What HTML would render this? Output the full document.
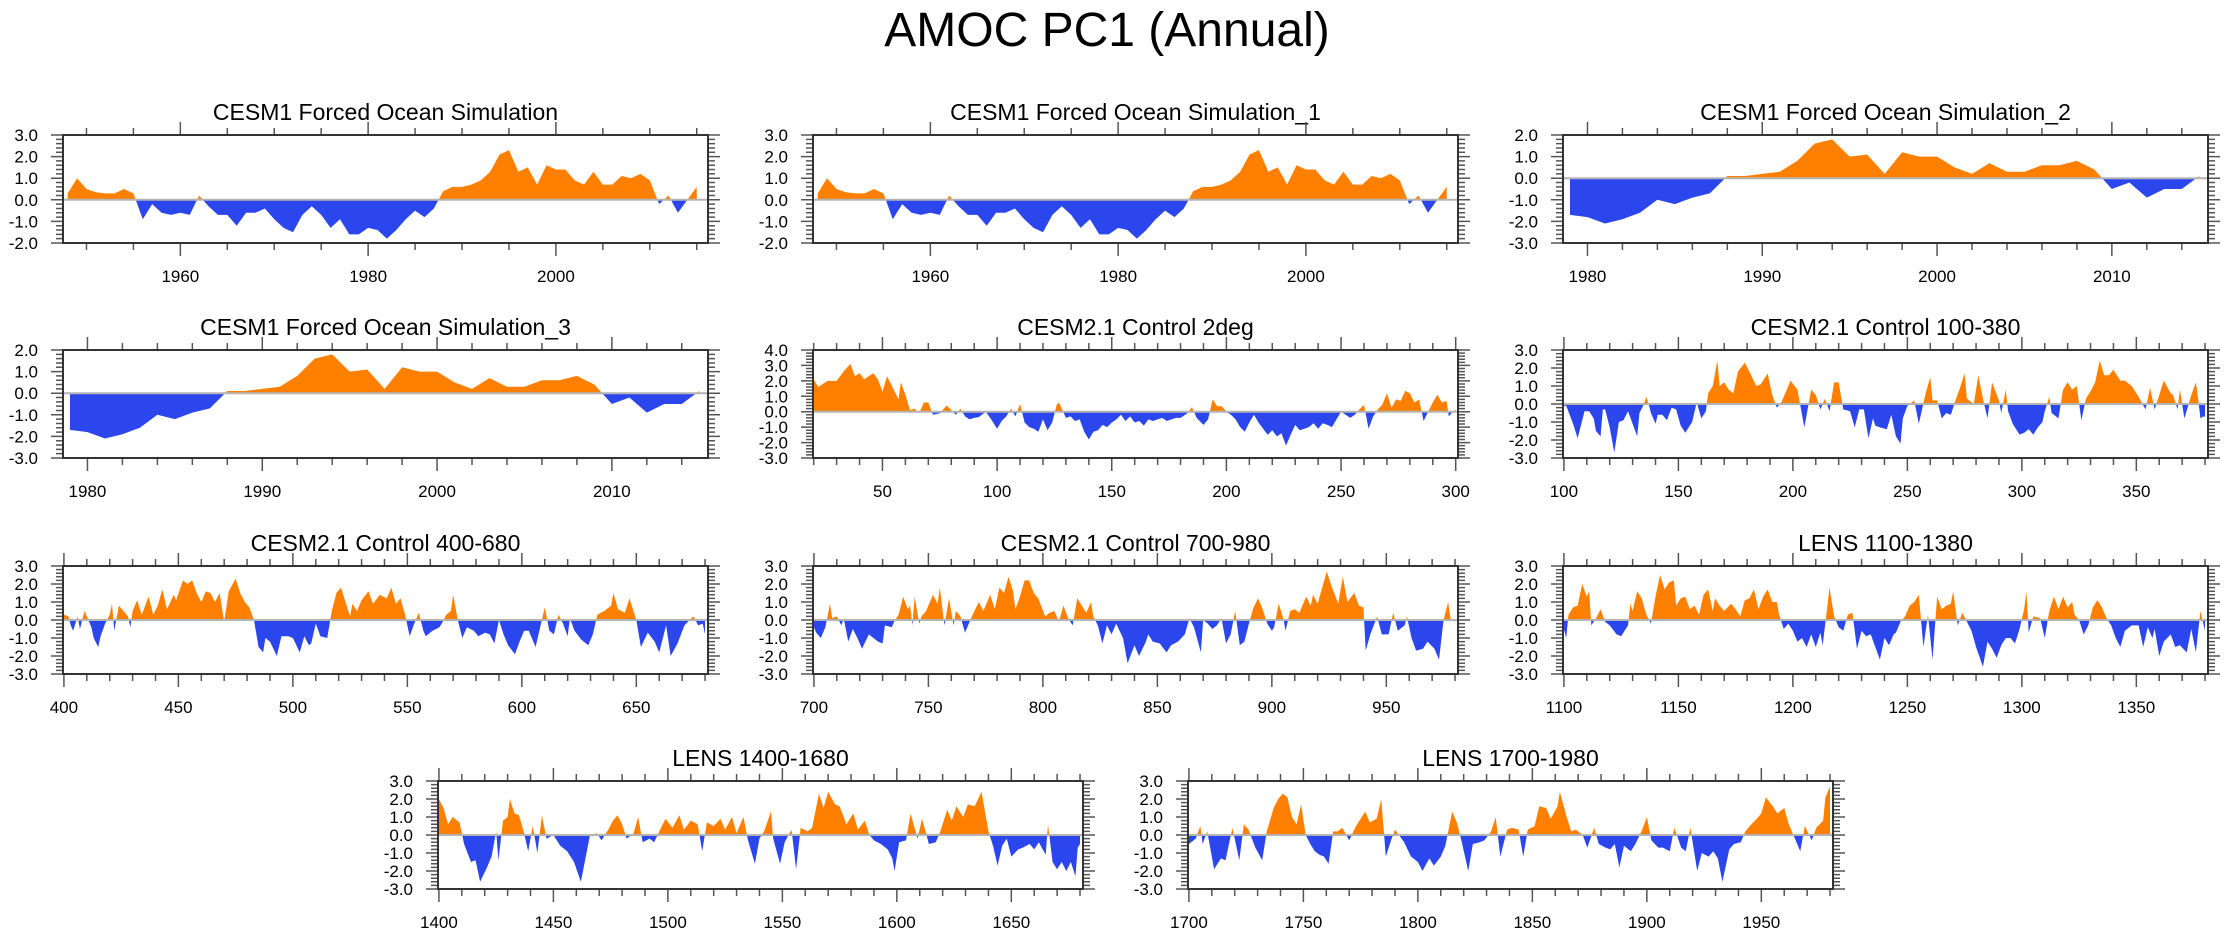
<!DOCTYPE html>
<html><head><meta charset="utf-8"><title>AMOC PC1 (Annual)</title>
<style>
html,body{margin:0;padding:0;background:#fff;}
svg{display:block;font-family:"Liberation Sans",Arial,sans-serif;}
</style></head>
<body>
<svg id="chart" width="2230" height="935" viewBox="0 0 2230 935" xmlns="http://www.w3.org/2000/svg">
<rect width="2230" height="935" fill="#fff"/>
<text x="1107" y="46" font-size="48" text-anchor="middle" fill="#000">AMOC PC1 (Annual)</text>
</svg>
<script>
// ---------- data ----------
const forcedValues = [0.3,1.0,0.5,0.35,0.3,0.3,0.5,0.3,-0.9,-0.2,-0.6,-0.7,-0.6,-0.7,0.2,-0.3,-0.7,-0.7,-1.2,-0.6,-0.6,-0.4,-0.9,-1.3,-1.5,-0.7,-0.3,-0.7,-1.3,-0.9,-1.6,-1.6,-1.3,-1.4,-1.8,-1.4,-0.9,-0.5,-0.8,-0.4,0.4,0.6,0.6,0.7,0.9,1.3,2.1,2.3,1.3,1.5,0.7,1.6,1.4,1.4,0.9,0.7,1.3,0.7,0.7,1.1,1.0,1.2,0.9,-0.2,0.2,-0.6,0.0,0.6];
const forcedYears = [];
for (let i = 0; i < forcedValues.length; i++) forcedYears.push(1948 + i);

const forced2Values = [-1.7,-1.8,-2.1,-1.9,-1.6,-1.0,-1.2,-0.9,-0.7,0.1,0.1,0.2,0.3,0.8,1.6,1.8,1.0,1.1,0.2,1.2,1.0,1.0,0.5,0.2,0.7,0.3,0.3,0.6,0.6,0.8,0.4,-0.5,-0.2,-0.9,-0.5,-0.5,0.1];
const forced2Years = [];
for (let i = 0; i < forced2Values.length; i++) forced2Years.push(1979 + i);

const c2degX = [20,22,26,30,33,36,38,40,42,46,48,50,52,55,57,58,60,62,64,66,68,70,72,75,78,80,82,84,86,88,90,92,95,97,100,102,104,106,108,110,112,114,116,118,120,122,124,126,127,130,132,134,136,138,140,142,144,146,148,150,152,154,156,158,160,162,164,166,168,170,172,174,176,178,180,183,185,187,190,192,194,196,198,200,202,204,206,208,210,212,214,216,218,220,222,224,226,228,230,232,234,236,238,240,242,244,246,248,250,252,254,256,258,260,262,264,266,268,270,272,274,276,278,280,282,284,286,288,290,292,294,296,297,299,300];
const c2degY = [2.1,1.6,2.0,2.0,2.6,3.1,2.3,2.5,2.1,2.5,2.1,1.3,2.3,1.4,0.8,1.9,1.1,0.1,0.2,-0.1,0.6,0.6,-0.2,-0.1,0.4,0.1,-0.2,0.2,-0.3,-0.5,-0.4,-0.35,0,-0.4,-1.1,-0.6,-0.3,0.2,-0.3,0.5,-0.7,-1.0,-1.1,-1.3,-0.5,-1.2,-0.7,0.45,0.6,-0.4,-0.3,-0.6,-0.5,-1.3,-1.8,-1.3,-1.2,-0.85,-1.0,-0.7,-0.5,-0.2,-0.6,-0.3,-0.7,-0.6,-0.9,-0.5,-0.6,-0.5,-0.4,-0.6,-0.5,-0.4,-0.4,-0.1,0.3,-0.4,-0.85,-0.5,0.8,0.35,0.35,0,-0.2,-0.5,-1.0,-1.3,-0.7,-0.2,-0.7,-1.1,-1.5,-1.2,-1.6,-1.4,-2.2,-1.5,-0.85,-1.2,-1.1,-1.0,-0.75,-1.1,-0.75,-0.85,-1.0,-0.5,0,-0.2,-0.4,-0.2,0.15,0.45,-1.1,-0.3,0.15,0.45,1.2,0.25,0.8,0.7,1.35,1.2,0.6,0.8,-0.6,0,0.6,1.1,0.6,0.7,-0.3,0.05,0.1];

const c100X = [100,101,104,106,109,111,113,114,116,117,118,120,122,124,126,128,130,132,133,135,136,137,138,140,141,143,145,147,149,151,153,156,158,160,162,163,165,167,168,170,172,174,176,179,181,184,186,187,189,191,193,195,199,202,205,208,210,212,214,216,218,220,222,225,227,229,231,233,235,236,238,241,243,245,247,248,250,253,255,258,260,261,263,265,267,269,271,273,275,276,279,281,283,285,287,290,291,293,294,296,299,301,303,305,307,309,310,312,313,316,318,320,322,324,326,328,330,332,334,336,338,340,343,345,348,351,354,356,358,361,362,365,366,368,369,371,374,376,377,378,379,380];
const c100Y = [-0.1,-0.1,-1.1,-1.9,-0.4,-0.4,-0.8,-1.5,-1.8,-0.3,-0.3,-1.3,-2.7,-1.0,-0.9,-0.4,-1.1,-1.8,-0.5,0.0,0.4,0.0,-0.5,-1.1,-0.6,-0.6,-0.9,-0.2,-0.3,-1.2,-1.6,-1.0,0.1,-0.8,-0.4,0.6,1.0,2.4,1.0,1.2,0.8,0.6,1.8,2.3,1.8,1.0,1.1,1.3,1.7,0.5,-0.2,0.1,1.3,0.8,-1.3,0.8,0.5,-0.3,0.3,-0.4,1.2,1.2,-0.3,-0.4,-1.3,-0.3,-0.3,-1.9,-0.8,-1.2,-1.3,-1.4,-0.6,-1.8,-2.2,-0.8,-0.1,0.2,-1.1,0.6,1.5,0.2,0.2,-0.8,-0.5,-0.6,0.2,0.9,1.7,0.3,0.0,1.6,0.3,-0.8,1.2,0.2,-0.5,0.8,-0.4,-1.1,-1.7,-1.6,-1.4,-1.7,-1.3,-1.0,-0.4,0.4,-0.5,-0.8,0.8,1.2,0.8,1.0,-0.9,0.3,0.7,1.2,2.4,1.6,1.6,1.9,1.3,1.3,1.0,0.4,-0.3,0.9,-0.3,0.9,1.3,0.6,0.5,-0.3,0.8,-0.8,0.5,1.2,0.3,-0.8,-0.7,-0.7];

const c400X = [400,402,403,404,406,407,409,410,412,413,415,416,418,420,421,422,424,426,428,429,430,432,434,437,439,441,443,445,448,449,452,454,456,458,460,462,464,466,468,470,472,475,477,479,481,483,485,487,488,490,493,495,498,500,503,505,507,508,510,512,515,517,519,521,523,525,526,528,530,533,535,538,541,543,545,547,549,551,553,555,557,558,561,564,565,567,569,570,572,574,576,579,581,584,586,588,590,592,594,597,599,601,603,606,608,610,612,614,616,618,620,621,623,626,629,631,633,636,639,640,642,645,647,648,650,652,655,658,660,663,665,668,671,674,675,677,679,680];
const c400Y = [0.3,0.2,-0.3,-0.6,0.2,-0.5,0.5,0.2,-0.4,-1.0,-1.5,-0.9,-0.2,0.3,0.9,-0.6,0.8,0.5,0.2,-0.4,0.5,1.1,0.3,1.3,0.3,0.8,1.7,0.6,1.4,1.1,2.2,2.0,2.2,1.5,1.0,1.6,1.5,1.0,1.5,-0.1,1.6,2.3,1.5,1.0,0.7,0.0,-1.5,-1.8,-1.0,-1.2,-2.0,-0.9,-0.9,-1.0,-1.8,-0.9,-1.4,-1.3,-0.2,-0.9,-1.0,0.5,1.5,1.8,1.0,0.2,0.9,0.5,1.1,1.6,0.9,1.4,1.2,1.8,0.9,1.2,0.3,-0.9,-0.2,0.4,-0.6,-0.9,-0.6,-0.4,-0.2,0.3,0.5,1.4,0.0,-1.0,-0.4,-0.6,-0.9,-0.7,-0.8,-1.3,0.0,-0.8,-1.4,-1.9,-1.2,-0.6,-0.6,-1.5,-0.4,0.7,-0.6,-0.8,0.3,-0.2,-0.9,0.1,-0.6,-1.1,-1.4,-0.8,0.3,0.5,0.8,1.5,0.6,0.4,1.2,0.8,0.0,-1.5,-0.7,-1.2,-1.8,-0.3,-2.0,-1.3,-0.3,0.1,0.2,-0.3,-0.2,-0.8];

const c700X = [700,701,703,705,707,708,710,712,713,715,717,719,721,724,726,728,730,731,734,735,737,739,741,742,743,744,746,747,749,752,754,755,757,759,761,762,764,766,768,769,772,774,777,779,781,783,785,787,788,790,792,794,796,798,801,803,805,807,809,811,813,815,817,819,821,822,824,826,828,830,832,835,837,840,842,845,846,848,851,854,856,859,862,864,866,869,870,872,874,876,878,880,882,884,886,888,890,892,894,896,898,900,901,903,905,906,908,910,912,915,917,918,920,922,924,926,929,931,933,936,938,940,941,943,946,948,951,953,955,958,959,961,963,966,968,971,973,975,977,978,980];
const c700Y = [-0.4,-0.7,-1.0,-0.4,0.9,0.1,0.2,-0.3,0.1,-1.2,-0.5,-1.0,-1.6,-0.8,-1.0,-1.2,-1.3,-0.3,-0.4,-0.1,0.3,1.3,0.6,0.8,-0.3,1.3,-0.2,0.2,0.5,1.4,0.9,1.8,-0.3,1.2,-0.3,0.5,0.2,-0.7,-0.1,0.2,1.0,0.5,1.4,0.6,1.8,1.5,2.4,1.6,0.6,1.3,2.2,2.2,1.5,1.2,0.2,0.4,0.5,-0.1,0.8,0.1,-0.3,1.2,0.8,0.4,1.0,0.2,-0.3,-1.3,-0.3,-0.8,-0.2,-1.0,-2.4,-1.4,-2.0,-1.2,-0.8,-1.2,-1.3,-1.8,-1.4,-1.2,-0.8,0.1,-0.4,-1.8,0.0,-0.2,-0.5,-0.3,0.1,-1.3,-0.8,0.5,-1.4,-1.2,-0.2,0.7,1.2,0.6,-0.2,-0.6,-0.4,0.9,0.1,-0.6,0.5,0.6,0.4,1.3,0.8,1.4,0.9,1.8,2.7,1.9,0.9,2.4,1.0,1.5,0.8,0.7,-1.7,-0.8,0.2,-0.8,-0.8,0.4,-0.6,-0.3,0.2,-1.0,-1.7,-1.6,-1.2,-1.6,-2.2,0.0,1.0,0.1,-0.1];

const lens1100X = [1100,1101,1102,1104,1106,1108,1110,1111,1112,1114,1116,1118,1120,1123,1125,1128,1129,1130,1132,1134,1136,1138,1140,1142,1144,1146,1148,1149,1151,1153,1155,1157,1159,1161,1163,1165,1166,1168,1170,1173,1175,1177,1179,1181,1183,1185,1187,1189,1191,1193,1194,1196,1198,1200,1202,1204,1206,1208,1210,1212,1213,1215,1216,1218,1220,1222,1224,1226,1228,1230,1232,1234,1236,1238,1240,1242,1244,1245,1247,1249,1251,1253,1255,1257,1259,1261,1263,1265,1267,1269,1270,1272,1274,1276,1278,1280,1283,1285,1287,1289,1291,1293,1295,1297,1299,1301,1302,1303,1305,1308,1310,1312,1314,1316,1318,1320,1322,1323,1325,1327,1329,1331,1333,1335,1337,1339,1341,1343,1345,1348,1351,1353,1355,1357,1358,1360,1362,1365,1367,1369,1372,1374,1376,1378,1380];
const lens1100Y = [-0.5,-1.0,0.3,0.7,0.8,2.0,1.3,1.6,-0.3,0.1,0.6,-0.1,-0.3,-0.8,-0.9,-0.3,0.9,0.5,1.6,1.2,0.3,-0.2,1.3,2.5,1.7,2.1,2.2,0.8,1.2,1.3,0.6,0.8,0.3,1.4,1.7,0.5,1.2,0.8,0.5,0.9,0.6,0.2,1.1,1.2,1.7,0.6,1.3,1.7,1.0,1.0,0.3,-0.5,-0.2,-0.6,-1.2,-1.0,-1.5,-0.8,-1.5,-0.7,-1.4,0.7,1.8,0.2,-0.4,-0.6,0.3,0.4,-1.6,-0.6,-0.9,-0.8,-1.5,-2.2,-1.0,-1.4,-0.8,-0.7,-0.1,0.2,0.8,1.0,1.4,-1.5,0.3,-2.2,1.3,0.6,0.8,0.9,1.6,-0.3,0.4,-0.1,-0.6,-1.5,-2.6,-1.2,-1.6,-2.1,-1.4,-1.0,-1.0,-1.3,-0.5,0.6,1.6,-0.7,0.2,0.1,-1.0,0.5,1.3,0.6,1.3,0.7,1.0,0.3,0.0,-0.8,-0.3,0.7,1.1,0.7,0.1,-0.3,-1.0,-1.5,-0.6,-0.3,-0.3,-1.5,-0.4,-1.0,-0.5,-2.0,-1.2,-0.8,-1.5,-1.4,-1.8,-0.5,-1.8,0.5,-0.6];

const lens1400X = [1400,1402,1404,1406,1409,1411,1414,1416,1418,1421,1423,1425,1426,1428,1430,1431,1433,1435,1437,1439,1441,1443,1445,1447,1450,1453,1456,1459,1462,1464,1466,1469,1471,1474,1476,1478,1480,1482,1485,1487,1489,1492,1494,1497,1499,1502,1505,1507,1510,1513,1515,1517,1520,1523,1525,1528,1530,1533,1535,1538,1540,1542,1545,1546,1549,1551,1554,1556,1558,1561,1563,1566,1568,1570,1573,1575,1578,1581,1583,1586,1588,1590,1593,1596,1598,1599,1601,1604,1606,1609,1611,1614,1617,1619,1622,1624,1626,1629,1631,1634,1637,1640,1642,1644,1646,1648,1650,1653,1655,1658,1660,1662,1665,1666,1668,1670,1672,1674,1676,1678,1679,1680];
const lens1400Y = [2.0,1.5,0.6,1.0,0.7,-0.5,-1.5,-1.4,-2.6,-1.8,-1.2,0.2,-1.4,0.8,1.0,2.0,1.2,1.1,0.2,-0.9,0.5,-1.0,1.1,-0.2,0.0,-0.6,-0.9,-1.5,-2.6,-1.3,0.0,0.1,-0.3,0.3,0.8,1.1,0.6,-0.2,0.1,1.0,-0.4,-0.2,-0.4,0.4,0.9,0.4,1.1,0.3,0.8,0.6,-0.9,0.7,0.5,0.9,0.3,1.0,0.1,1.0,-0.3,-1.6,-0.2,0.2,1.3,-0.2,-1.6,-0.4,0.3,-1.9,0.4,0.2,0.4,2.3,1.5,2.4,1.7,1.6,0.6,1.2,0.3,0.8,0.0,-0.3,-0.5,-0.8,-1.3,-2.0,-0.4,-0.3,1.2,-0.2,0.9,-0.5,-0.4,0.2,1.4,0.8,1.6,1.0,1.7,1.6,2.4,0.2,-0.6,-1.7,-0.6,-0.2,-1.2,-0.8,-0.7,-0.5,-0.8,-0.4,-1.1,0.6,-1.5,-1.9,-1.5,-2.0,-1.5,-2.3,-0.7,-0.5];

const lens1700X = [1700,1703,1705,1706,1708,1711,1714,1716,1719,1722,1724,1726,1729,1732,1734,1737,1739,1741,1743,1745,1747,1749,1751,1753,1755,1757,1759,1761,1763,1765,1767,1770,1773,1775,1777,1779,1782,1784,1786,1788,1790,1794,1797,1800,1802,1805,1807,1810,1812,1815,1817,1819,1822,1824,1827,1829,1832,1834,1836,1839,1841,1844,1846,1848,1851,1853,1856,1858,1861,1862,1865,1867,1869,1872,1874,1877,1879,1882,1884,1886,1888,1890,1893,1895,1898,1900,1902,1905,1907,1910,1912,1915,1917,1919,1922,1924,1927,1929,1931,1933,1936,1938,1941,1943,1945,1948,1950,1952,1955,1957,1960,1962,1965,1967,1969,1972,1974,1977,1978,1980];
const lens1700Y = [-0.5,-0.2,0.5,-0.5,0.2,-1.9,-1.3,-1.4,0.4,-1.4,0.6,0.3,-0.7,-1.4,0.2,1.5,2.0,2.3,2.1,1.0,0.6,1.7,0.0,-0.5,-0.9,-1.1,-1.2,-1.6,0.2,0.2,0.4,-0.3,0.5,0.9,1.3,0.7,0.9,2.0,-1.2,-0.4,0.3,-0.4,-1.2,-1.5,-2.0,-1.3,-1.7,-1.2,-0.6,1.3,0.7,-0.3,-2.0,-0.5,-0.4,-0.3,0.2,1.0,-1.2,0.3,0.4,0.3,-1.2,0.3,0.5,1.6,1.5,0.9,1.6,2.4,1.0,0.2,0.3,0.0,-0.7,0.4,-0.5,-0.7,-0.8,-0.5,-1.8,-0.6,-0.9,-0.5,0.3,1.0,-0.3,-0.7,-0.7,-0.9,0.4,-0.7,-0.9,0.4,-2.0,-1.0,-1.2,-0.9,-1.3,-2.6,-0.8,-0.5,-0.4,0.2,0.5,0.9,1.2,2.1,1.6,1.2,1.5,0.6,-0.3,-0.9,0.5,-0.3,0.4,0.8,2.1,2.7];

const yTicksA = [-2,-1,0,1,2,3];
const yTicksB = [-3,-2,-1,0,1,2];
const yTicksC = [-3,-2,-1,0,1,2,3,4];
const yTicksD = [-3,-2,-1,0,1,2,3];

// ---------- panels ----------
const panels = [
  {name:'cesm1-forced', title:'CESM1 Forced Ocean Simulation', L:63, T:135, xs:forcedYears, ys:forcedValues, xmin:1947.5, xmax:2016.2, major:20, minor:5, yt:yTicksA},
  {name:'cesm1-forced-1', title:'CESM1 Forced Ocean Simulation_1', L:813, T:135, xs:forcedYears, ys:forcedValues, xmin:1947.5, xmax:2016.2, major:20, minor:5, yt:yTicksA},
  {name:'cesm1-forced-2', title:'CESM1 Forced Ocean Simulation_2', L:1563, T:135, xs:forced2Years, ys:forced2Values, xmin:1978.6, xmax:2015.5, major:10, minor:2, yt:yTicksB},
  {name:'cesm1-forced-3', title:'CESM1 Forced Ocean Simulation_3', L:63, T:350, xs:forced2Years, ys:forced2Values, xmin:1978.6, xmax:2015.5, major:10, minor:2, yt:yTicksB},
  {name:'cesm2-control-2deg', title:'CESM2.1 Control 2deg', L:813, T:350, xs:c2degX, ys:c2degY, xmin:19.7, xmax:301, major:50, minor:10, yt:yTicksC},
  {name:'cesm2-control-100-380', title:'CESM2.1 Control 100-380', L:1563, T:350, xs:c100X, ys:c100Y, xmin:99.6, xmax:381.3, major:50, minor:10, yt:yTicksD},
  {name:'cesm2-control-400-680', title:'CESM2.1 Control 400-680', L:63, T:566, xs:c400X, ys:c400Y, xmin:399.6, xmax:681.3, major:50, minor:10, yt:yTicksD},
  {name:'cesm2-control-700-980', title:'CESM2.1 Control 700-980', L:813, T:566, xs:c700X, ys:c700Y, xmin:699.6, xmax:981.3, major:50, minor:10, yt:yTicksD},
  {name:'lens-1100-1380', title:'LENS 1100-1380', L:1563, T:566, xs:lens1100X, ys:lens1100Y, xmin:1099.6, xmax:1381.3, major:50, minor:10, yt:yTicksD},
  {name:'lens-1400-1680', title:'LENS 1400-1680', L:438, T:781, xs:lens1400X, ys:lens1400Y, xmin:1399.6, xmax:1681.3, major:50, minor:10, yt:yTicksD},
  {name:'lens-1700-1980', title:'LENS 1700-1980', L:1188, T:781, xs:lens1700X, ys:lens1700Y, xmin:1699.6, xmax:1981.3, major:50, minor:10, yt:yTicksD}
];

const NS = 'http://www.w3.org/2000/svg';
const svg = document.getElementById('chart');
const W = 645, H = 108;
function mk(tag, attrs, parent) {
  const e = document.createElementNS(NS, tag);
  for (const k in attrs) e.setAttribute(k, attrs[k]);
  parent.appendChild(e);
  return e;
}

panels.forEach(function(p, idx) {
  const g = mk('g', {}, svg);
  
  
  const ymin = p.yt[0], ymax = p.yt[p.yt.length - 1];
  const xs = function(v) { return p.L + (v - p.xmin) / (p.xmax - p.xmin) * W; };
  const ysc = function(v) { return p.T + (ymax - v) / (ymax - ymin) * H; };
  const B = p.T + H, R = p.L + W;
  const y0 = ysc(0);

  const t = mk('text', {x: p.L + W / 2, y: p.T - 15, 'font-size': 23, 'text-anchor': 'middle', fill: '#000'}, g);
  t.textContent = p.title;
  
  

  // clip paths
  const defs = mk('defs', {}, g);
  const cpA = mk('clipPath', {id: 'ca' + idx}, defs);
  mk('rect', {x: p.L, y: p.T, width: W, height: y0 - p.T}, cpA);
  const cpB = mk('clipPath', {id: 'cb' + idx}, defs);
  mk('rect', {x: p.L, y: y0, width: W, height: B - y0}, cpB);

  const n = Math.min(p.xs.length, p.ys.length);
  let d = 'M' + xs(p.xs[0]).toFixed(2) + ',' + y0.toFixed(2);
  for (let i = 0; i < n; i++) d += 'L' + xs(p.xs[i]).toFixed(2) + ',' + ysc(p.ys[i]).toFixed(2);
  d += 'L' + xs(p.xs[n - 1]).toFixed(2) + ',' + y0.toFixed(2) + 'Z';

  const pos = mk('path', {d: d, fill: '#ff8000', 'clip-path': 'url(#ca' + idx + ')'}, g);
  
  
  const neg = mk('path', {d: d, fill: '#2a46ec', 'clip-path': 'url(#cb' + idx + ')'}, g);
  
  

  const zl = mk('line', {x1: p.L, x2: R, y1: y0, y2: y0, stroke: '#b4b4b4', 'stroke-width': 2}, g);
  
  

  // ticks
  let tk = '';
  for (let v = ymin; v <= ymax + 1e-6; v += 0.2) {
    const yy = ysc(v);
    const isMaj = Math.abs(v - Math.round(v)) < 1e-6;
    const len = isMaj ? 12 : 7;
    tk += 'M' + p.L + ',' + yy.toFixed(2) + 'h' + (-len);
    tk += 'M' + R + ',' + yy.toFixed(2) + 'h' + len;
  }
  const start = Math.ceil(p.xmin / p.minor) * p.minor;
  for (let v = start; v <= p.xmax + 1e-6; v += p.minor) {
    const xx = xs(v);
    const isMaj = Math.abs(v / p.major - Math.round(v / p.major)) < 1e-6;
    const len = isMaj ? 13 : 7;
    tk += 'M' + xx.toFixed(2) + ',' + B + 'v' + len;
    tk += 'M' + xx.toFixed(2) + ',' + p.T + 'v' + (-len);
  }
  const ticks = mk('path', {d: tk, stroke: '#555', 'stroke-width': 1.5, fill: 'none'}, g);
  
  

  const frame = mk('rect', {x: p.L, y: p.T, width: W, height: H, fill: 'none', stroke: '#333', 'stroke-width': 2}, g);
  
  

  p.yt.forEach(function(v) {
    const lb = mk('text', {x: p.L - 25, y: ysc(v) + 6, 'font-size': 17, 'text-anchor': 'end', fill: '#000'}, g);
    lb.textContent = v.toFixed(1);
    
    
  });
  const mstart = Math.ceil(p.xmin / p.major) * p.major;
  for (let v = mstart; v <= p.xmax; v += p.major) {
    const lb = mk('text', {x: xs(v), y: B + 39, 'font-size': 17, 'text-anchor': 'middle', fill: '#000'}, g);
    lb.textContent = String(v);
    
    
  }
});
</script>
</body></html>
